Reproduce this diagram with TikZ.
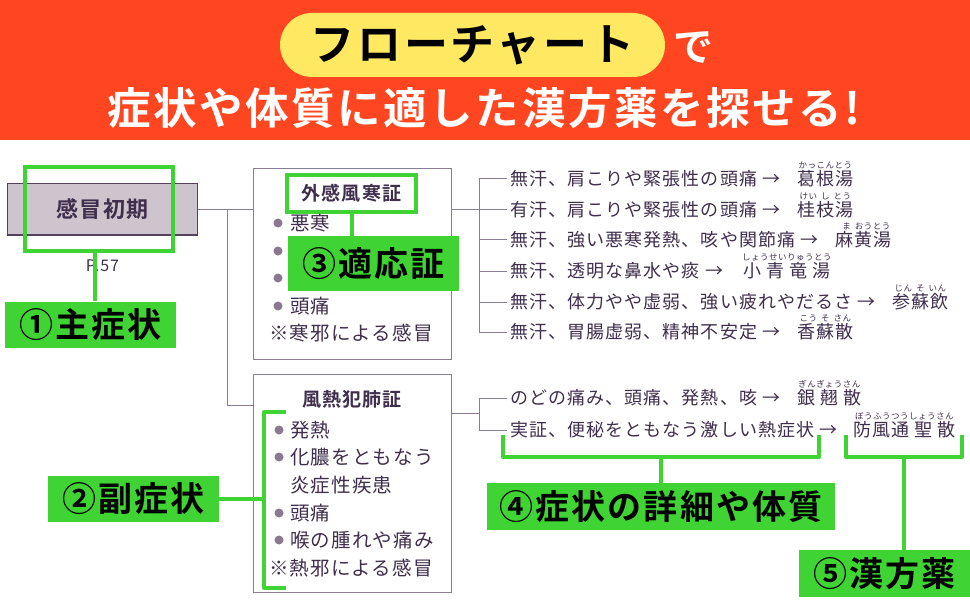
\documentclass[tikz,border=0pt]{standalone}
\usepackage{fontspec}
\setmainfont{Noto Sans CJK JP}[LetterSpace=6, BoldFont={Noto Sans CJK JP Bold}]
\usepackage{xcolor}
\usepackage{tikz}
\usetikzlibrary{positioning}

\definecolor{hdrred}{HTML}{FF4620}
\definecolor{pillyellow}{HTML}{FFE962}
\definecolor{tagreen}{HTML}{3FD434}
\definecolor{inkpurple}{HTML}{3F2E4C}
\definecolor{linepurple}{HTML}{8C7C93}
\definecolor{dotpurple}{HTML}{8A7890}
\definecolor{kanboufill}{HTML}{CEC4CE}
\definecolor{kanbouline}{HTML}{55415E}

\newcommand{\rgap}{\hspace{4bp}}

\begin{document}
\begin{tikzpicture}[x=1bp, y=-1bp,
    ink/.style={text=inkpurple, inner sep=0pt},
    boxtext/.style={ink, anchor=west, font=\fontsize{19.5bp}{21bp}\selectfont},
    rowtext/.style={ink, anchor=west, font=\fontsize{18bp}{20bp}\selectfont},
    herb/.style={ink, anchor=west, font=\fontsize{18bp}{20bp}\selectfont},
    ruby/.style={ink, font=\fontsize{8.5bp}{9bp}\selectfont},
    sympbox/.style={draw=linepurple, line width=1bp, minimum width=198bp},
    link/.style={draw=linepurple, line width=1bp},
    greenline/.style={draw=tagreen, line width=4bp, line join=round},
    tag/.style={fill=tagreen, text=black, inner sep=0pt, minimum width=171bp,
        minimum height=46bp, font=\bfseries\fontsize{34bp}{36bp}\selectfont}]

    \useasboundingbox (0,0) rectangle (970,600);

    % Header band
    \fill[hdrred] (0,0) rectangle (970,140);
    \node[fill=pillyellow, rounded corners=32bp, minimum width=385bp, minimum height=64bp,
        inner sep=0pt, font=\bfseries\fontsize{44bp}{48bp}\selectfont] (pill) at (472.5,45) {フローチャート};
    \node[text=white, inner sep=0pt, font=\bfseries\fontsize{40bp}{44bp}\selectfont] (de) at (693,48) {で};
    \node[text=white, inner sep=0pt, font=\bfseries\fontsize{43.5bp}{46bp}\selectfont] (catch) at (484,108)
        {症状や体質に適した漢方薬を探せる!};

    % Main symptom box
    \node[fill=kanboufill, draw=kanbouline, line width=1bp, minimum width=189bp, minimum height=51bp,
        text=inkpurple, font=\bfseries\fontsize{22bp}{24bp}\selectfont] (kanbou) at (102.5,209.5) {感冒初期};
    \node[ink, font=\fontsize{16bp}{18bp}\selectfont] (page) at (102.5,266) {P.57};

    % Pattern boxes
    \node[sympbox, minimum height=190bp] (fuukan) at (352,264) {};
    \node[sympbox, minimum height=218bp] (fuunetsu) at (352,483) {};

    % Tree from main symptom to the patterns
    \coordinate (split1) at (227,209.5);
    \coordinate (in2) at (253,405);
    \draw[link] (kanbou.east) -- (kanbou.east -| fuukan.west);
    \draw[link] (split1) |- (in2);

    % Titles of the patterns
    \node[ink, draw=tagreen, line width=4bp, fill=white, minimum width=129bp, minimum height=37bp,
        font=\bfseries\fontsize{19bp}{21bp}\selectfont] (title1) at (351.5,193.5) {外感風寒証};
    \node[ink, font=\bfseries\fontsize{19bp}{21bp}\selectfont] (title2) at (352,399) {風熱犯肺証};

    % Symptoms of the first pattern
    \foreach \y/\txt in {223/悪寒, 251/発熱, 278/{}, 306/頭痛} {
        \fill[dotpurple] (278,\y) circle (4.5bp);
        \node[boxtext] at (290,\y) {\txt};
    }
    \node[boxtext] at (269,333) {※寒邪による感冒};

    % Symptoms of the second pattern
    \foreach \y/\txt in {430/発熱, 457/化膿をともなう, 513/頭痛, 540/喉の腫れや痛み} {
        \fill[dotpurple] (279,\y) circle (4.5bp);
        \node[boxtext] at (290,\y) {\txt};
    }
    \node[boxtext] at (290,485) {炎症性疾患};
    \node[boxtext] at (269,568) {※熱邪による感冒};

    % Details and formulas of the first pattern
    \node[rowtext] (r1) at (510,179) {無汗、肩こりや緊張性の頭痛 →};
    \node[rowtext] (r2) at (510,209.5) {有汗、肩こりや緊張性の頭痛 →};
    \node[rowtext] (r3) at (510,240) {無汗、強い悪寒発熱、咳や関節痛 →};
    \node[rowtext] (r4) at (510,271) {無汗、透明な鼻水や痰 →};
    \node[rowtext] (r5) at (510,302) {無汗、体力やや虚弱、強い疲れやだるさ →};
    \node[rowtext] (r6) at (510,332) {無汗、胃腸虚弱、精神不安定 →};

    \node[herb] (h1) at (797,179) {葛根湯};
    \node[herb] (h2) at (797,209.5) {桂枝湯};
    \node[herb] (h3) at (835,240) {麻黄湯};
    \node[herb] (h4) at (743,271) {小 青 竜 湯};
    \node[herb] (h5) at (892,302) {参蘇飲};
    \node[herb] (h6) at (797,332) {香蘇散};

    \node[ruby, above=1bp of h1] {かっこんとう};
    \node[ruby, above=1bp of h2] {けい\rgap し\rgap とう};
    \node[ruby, above=1bp of h3, xshift=3bp] {ま\rgap おうとう};
    \node[ruby, above=1bp of h4] {しょうせいりゅうとう};
    \node[ruby, above=1bp of h5] {じん\rgap そ\rgap いん};
    \node[ruby, above=1bp of h6] {こう\rgap そ\rgap さん};

    \coordinate (t1) at (479,209.5);
    \draw[link] (fuukan.east |- t1) -- (t1);
    \draw[link] (t1 |- r1.west) -- (t1 |- r6.west);
    \foreach \i in {1,...,6} {
        \draw[link] (t1 |- r\i.west) -- ([xshift=-3bp]r\i.west);
    }

    % Details and formulas of the second pattern
    \node[rowtext] (s1) at (510,398) {のどの痛み、頭痛、発熱、咳 →};
    \node[rowtext] (s2) at (510,430) {実証、便秘をともなう激しい熱症状 →};
    \node[herb] (g1) at (797,398) {銀 翹 散};
    \node[herb] (g2) at (853,430) {防風通 聖 散};
    \node[ruby, above=1bp of g1] {ぎんぎょうさん};
    \node[ruby, above=1bp of g2] {ぼうふうつうしょうさん};

    \coordinate (t2) at (479,413);
    \draw[link] (fuunetsu.east |- t2) -- (t2);
    \draw[link] (t2 |- s1.west) -- (t2 |- s2.west);
    \foreach \i in {1,2} {
        \draw[link] (t2 |- s\i.west) -- ([xshift=-3bp]s\i.west);
    }

    % Green frames and brackets
    \node[draw=tagreen, line width=4bp, minimum width=148bp, minimum height=84bp] (frame1) at (99,209) {};
    \coordinate (br2a) at (286,412);
    \coordinate (br2b) at (286,588);
    \coordinate (br2corner) at (264,412);
    \draw[greenline] (br2a) -- (br2corner) |- (br2b);
    \coordinate (br4l) at (503,435);
    \coordinate (br4r) at (819,435);
    \draw[greenline] (br4l) -- ++(0,22) -| (br4r);
    \coordinate (br5l) at (846,435);
    \coordinate (br5r) at (962,435);
    \draw[greenline] (br5l) -- ++(0,22) -| (br5r);
    \coordinate (br5m) at (904,457);

    % Green labels
    \node[tag] (tag1) at (90.5,324.5) {①主症状};
    \node[tag] (tag2) at (133.5,499) {②副症状};
    \node[tag, minimum height=55bp] (tag3) at (373.5,263.5) {③適応証};
    \node[tag, minimum width=348bp, minimum height=47bp] (tag4) at (661,506.5) {④症状の詳細や体質};
    \node[tag, minimum height=47bp] (tag5) at (884.5,573.5) {⑤漢方薬};

    % Green connectors to the labels
    \draw[greenline] ([xshift=-4bp]frame1.south) -- ([xshift=-4bp]frame1.south |- tag1.north);
    \draw[greenline] (title1.south) -- (title1.south |- tag3.north);
    \draw[greenline] (tag2.east) -- (tag2.east -| br2corner);
    \draw[greenline] (tag4.north) -- (tag4.north |- 0,457);
    \draw[greenline] (br5m) -- (br5m |- tag5.north);
\end{tikzpicture}
\end{document}
